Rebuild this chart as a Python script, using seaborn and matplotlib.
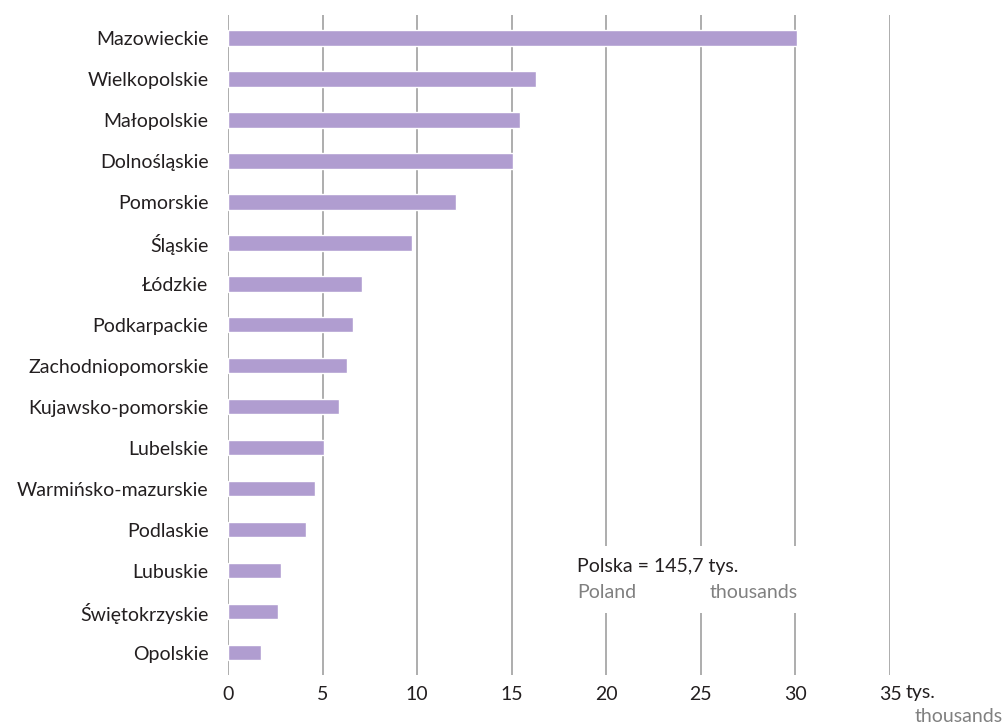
import matplotlib
matplotlib.use("Agg")
import matplotlib.pyplot as plt
import seaborn as sns
from matplotlib.patches import Rectangle

regions = ["Mazowieckie", "Wielkopolskie", "Małopolskie", "Dolnośląskie",
           "Pomorskie", "Śląskie", "Łódzkie", "Podkarpackie",
           "Zachodniopomorskie", "Kujawsko-pomorskie", "Lubelskie",
           "Warmińsko-mazurskie", "Podlaskie", "Lubuskie",
           "Świętokrzyskie", "Opolskie"]
values = [30.1, 16.3, 15.45, 15.07, 12.06, 9.73, 7.09, 6.61,
          6.31, 5.85, 5.05, 4.6, 4.14, 2.82, 2.66, 1.73]
xticks = [0, 5, 10, 15, 20, 25, 30, 35]

sns.set_style("white")
plt.rcParams["font.family"] = ["Lato", "DejaVu Sans"]

fig = plt.figure(figsize=(10.07, 7.28), dpi=100)
ax = fig.add_axes([228 / 1007, 1 - 675 / 728, 662 / 1007, 660 / 728])

bar_color = "#b09dd0"
sns.barplot(x=values, y=regions, orient="h", color=bar_color,
            saturation=1, width=0.37, ax=ax, zorder=3)

ax.set_xlim(0, 35)
ax.set_ylim(15.54, -0.56)
ax.set_xticks(xticks)
ax.set_xticklabels([str(t) for t in xticks])
ax.grid(axis="x", color="#a0a0a0", linewidth=1.2, zorder=0)
ax.grid(axis="y", visible=False)
ax.set_axisbelow(True)
for s in ax.spines.values():
    s.set_visible(False)
ax.tick_params(axis="both", length=0, labelsize=14, colors="#231f20")
ax.tick_params(axis="x", pad=8)
ax.tick_params(axis="y", pad=14)
ax.set_xlabel("")
ax.set_ylabel("")

# unit label next to last tick
ax.annotate("tys.", xy=(35, 0), xycoords=ax.get_xaxis_transform(),
            xytext=(11.5, -12.5), textcoords="offset points",
            fontsize=14, color="#231f20", ha="left", va="center")
ax.text(1003 / 1007, 1 - 717 / 728, "thousands", transform=fig.transFigure,
        fontsize=14, color="#808080", ha="right", va="center")

# total annotation with a white patch breaking the gridlines
ax.add_patch(Rectangle((16.5, 12.4), 16.6, 1.63, facecolor="white",
                       edgecolor="none", zorder=1))
ax.text(18.45, 12.9, "Polska = 145,7 tys.", fontsize=14, color="#231f20",
        ha="left", va="center", zorder=4)
ax.text(18.45, 13.52, "Poland", fontsize=14, color="#808080",
        ha="left", va="center", zorder=4)
ax.text(25.45, 13.52, "thousands", fontsize=14, color="#808080",
        ha="left", va="center", zorder=4)

fig.savefig("out.png", dpi=100)
